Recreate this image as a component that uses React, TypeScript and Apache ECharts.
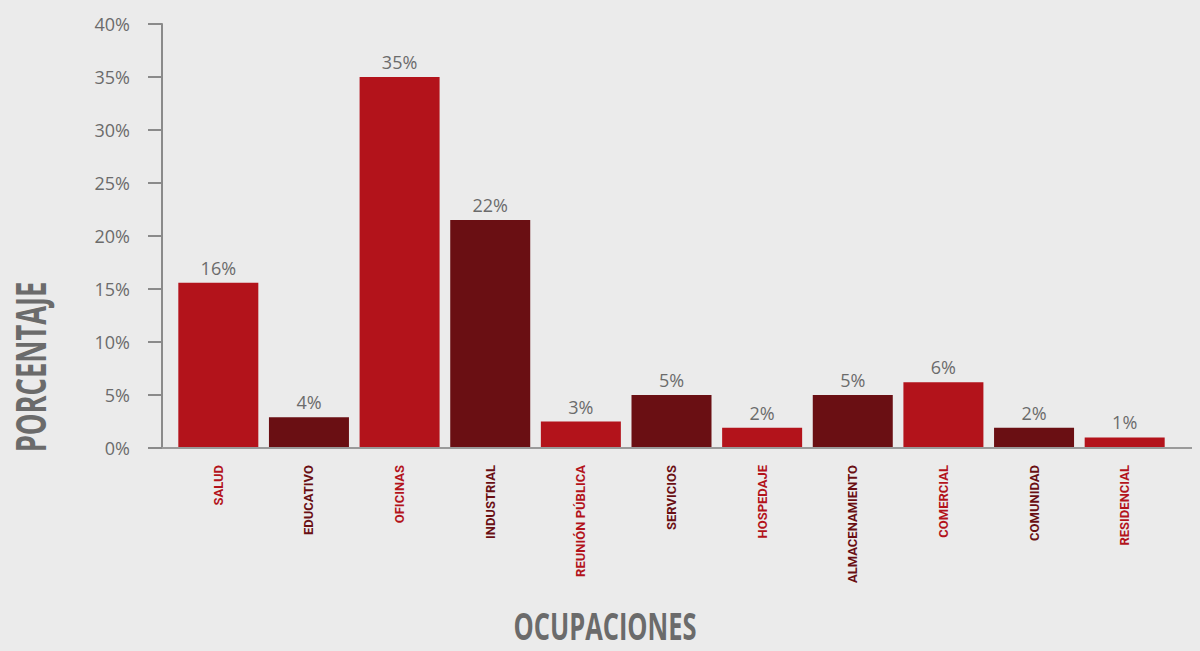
import React, { useEffect, useRef } from "react";
import * as echarts from "echarts";

const categories = [
  "SALUD",
  "EDUCATIVO",
  "OFICINAS",
  "INDUSTRIAL",
  "REUNIÓN PÚBLICA",
  "SERVICIOS",
  "HOSPEDAJE",
  "ALMACENAMIENTO",
  "COMERCIAL",
  "COMUNIDAD",
  "RESIDENCIAL",
];
const values = [15.6, 2.9, 35.0, 21.5, 2.5, 5.0, 1.9, 5.0, 6.2, 1.9, 1.0];
const valueLabels = ["16%", "4%", "35%", "22%", "3%", "5%", "2%", "5%", "6%", "2%", "1%"];
const yTicks = [0, 5, 10, 15, 20, 25, 30, 35, 40];
const xTitle = "OCUPACIONES";
const yTitle = "PORCENTAJE";

const RED = "#b3131b";
const DARK = "#6a0f13";
const GRAY = "#6b6b6b";

export default function App() {
  const ref = useRef<HTMLDivElement>(null);
  useEffect(() => {
    if (!ref.current) return;
    const chart = echarts.init(ref.current, undefined, { renderer: "svg" });
    chart.setOption({
      animation: false,
      backgroundColor: "#ebebeb",
      grid: { left: 173, right: 30, top: 24, bottom: 203, containLabel: false },
      xAxis: {
        type: "category",
        data: categories,
        axisLine: { show: false },
        axisTick: { show: false },
        axisLabel: {
          rotate: 90,
          interval: 0,
          margin: 17,
          fontFamily: "Roboto, sans-serif",
          fontWeight: "bold",
          fontSize: 13,
          color: (_v: string, i: number) => (i % 2 === 0 ? RED : DARK),
        },
      },
      yAxis: {
        type: "value",
        min: yTicks[0],
        max: yTicks[yTicks.length - 1],
        interval: 5,
        offset: 11,
        splitLine: { show: false },
        axisLine: { show: true, lineStyle: { color: "#8a8a8a", width: 2 } },
        axisTick: { show: true, length: 14, lineStyle: { color: "#8a8a8a", width: 2 } },
        axisLabel: {
          formatter: (v: number) => `${v}%`,
          margin: 32,
          fontFamily: "'Open Sans', sans-serif",
          fontSize: 18,
          color: GRAY,
        },
      },
      series: [
        {
          type: "bar",
          data: values.map((v, i) => ({
            value: v,
            itemStyle: { color: i % 2 === 0 ? RED : DARK },
          })),
          barWidth: 80,
          label: {
            show: true,
            position: "top",
            distance: 6,
            formatter: (p: any) => valueLabels[p.dataIndex],
            fontFamily: "'Open Sans', sans-serif",
            fontSize: 18,
            color: GRAY,
          },
        },
      ],
      graphic: [
        {
          type: "line",
          shape: { x1: 162, y1: 448, x2: 1192, y2: 448 },
          style: { stroke: "#9a9a9a", lineWidth: 2 },
          z: 10,
        },
        {
          type: "text",
          x: 605,
          y: 625,
          scaleX: 0.67,
          style: {
            text: xTitle,
            fontFamily: "'Open Sans', sans-serif",
            fontWeight: "bold",
            fontSize: 38,
            lineHeight: 32,
            fill: GRAY,
            align: "center",
            verticalAlign: "middle",
          },
        },
        {
          type: "text",
          x: 29,
          y: 367,
          rotation: Math.PI / 2,
          scaleX: 0.65,
          style: {
            text: yTitle,
            fontFamily: "'Open Sans', sans-serif",
            fontWeight: "bold",
            fontSize: 42,
            fill: GRAY,
            align: "center",
            verticalAlign: "middle",
          },
        },
      ],
    });
    return () => chart.dispose();
  }, []);
  return (
    <div
      ref={ref}
      style={{ position: "absolute", left: 0, top: 0, width: 1200, height: 651 }}
    />
  );
}
